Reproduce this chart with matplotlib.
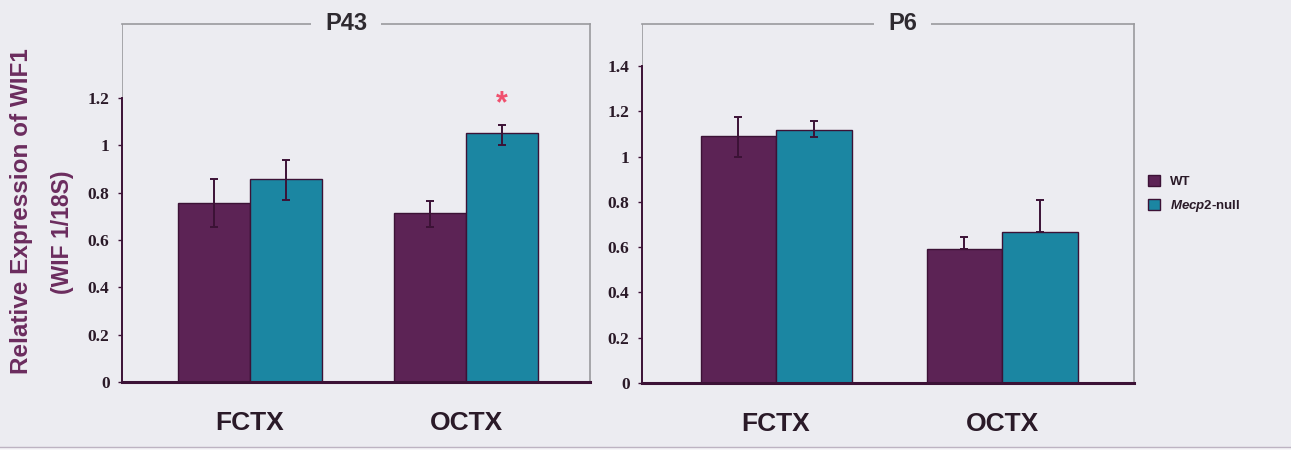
import matplotlib
matplotlib.use("Agg")
import matplotlib.pyplot as plt
from matplotlib.patches import Patch, Rectangle
from matplotlib.lines import Line2D
import numpy as np

plt.rcParams['mathtext.fontset'] = 'custom'
plt.rcParams['mathtext.it'] = 'Liberation Sans:italic:bold'
plt.rcParams['mathtext.rm'] = 'Liberation Sans:bold'

categories = ["FCTX", "OCTX"]
series = ["WT", r"$\mathit{Mecp}$2-null"]

p43_wt = [0.756, 0.714]
p43_ko = [0.858, 1.052]
p43_wt_err_up = [0.10, 0.05]
p43_wt_err_dn = [0.10, 0.06]
p43_ko_err_up = [0.08, 0.035]
p43_ko_err_dn = [0.09, 0.05]

p6_wt = [1.091, 0.592]
p6_ko = [1.117, 0.667]
p6_wt_err_up = [0.085, 0.053]
p6_wt_err_dn = [0.093, 0.0]
p6_ko_err_up = [0.04, 0.14]
p6_ko_err_dn = [0.03, 0.0]

p43_ticks = [0, 0.2, 0.4, 0.6, 0.8, 1, 1.2]
p43_ticklabels = ["0", "0.2", "0.4", "0.6", "0.8", "1", "1.2"]
p6_ticks = [0, 0.2, 0.4, 0.6, 0.8, 1, 1.2, 1.4]
p6_ticklabels = ["0", "0.2", "0.4", "0.6", "0.8", "1", "1.2", "1.4"]

BG = "#ececf1"
WT_C = "#5c2355"
KO_C = "#1b86a2"
EDGE = "#3c1236"
GRAY = "#9a9a9e"
TXT = "#2a1a28"

W, H = 1291, 450
fig = plt.figure(figsize=(W / 100, H / 100), dpi=100, facecolor=BG)

def px(x0, y0, x1, y1):
    return [x0 / W, 1 - y1 / H, (x1 - x0) / W, (y1 - y0) / H]

def panel(rect, title, title_x, wt, ko, wt_up, wt_dn, ko_up, ko_dn,
          ticks, ticklabels, ymax, ytop_axis, xlim, star=None):
    ax = fig.add_axes(rect)
    ax.set_facecolor(BG)
    x = np.arange(len(categories))
    bw = 0.334
    ax.bar(x - bw / 2, wt, bw, color=WT_C, edgecolor=EDGE, linewidth=1.0, zorder=2)
    ax.bar(x + bw / 2, ko, bw, color=KO_C, edgecolor=EDGE, linewidth=1.0, zorder=2)
    ax.errorbar(x - bw / 2, wt, yerr=[wt_dn, wt_up], fmt='none', ecolor=EDGE,
                elinewidth=1.4, capsize=3, capthick=1.4, zorder=3)
    ax.errorbar(x + bw / 2, ko, yerr=[ko_dn, ko_up], fmt='none', ecolor=EDGE,
                elinewidth=1.4, capsize=3, capthick=1.4, zorder=3)
    if star is not None:
        i, y = star
        ax.text(x[i] + bw / 2, y, "*", color="#f0506e", fontsize=22,
                fontweight='bold', ha='center', va='center',
                family='Liberation Sans')
    ax.set_xlim(*xlim)
    ax.set_ylim(0, ymax)
    ax.set_yticks(ticks)
    ax.set_yticklabels(ticklabels, family='Liberation Serif', fontweight='bold',
                       fontsize=12.5, color=TXT)
    ax.tick_params(axis='y', length=3, width=1, color=EDGE, pad=6, direction='out')
    ax.set_xticks(x)
    ax.set_xticklabels(categories, family='Liberation Sans', fontweight='bold',
                       fontsize=19, color=TXT)
    ax.tick_params(axis='x', length=0, pad=21)
    for s in ['top', 'right']:
        ax.spines[s].set_color(GRAY)
        ax.spines[s].set_linewidth(1.2)
    ax.spines['left'].set_color(EDGE)
    ax.spines['left'].set_linewidth(1.4)
    ax.spines['left'].set_bounds(0, ytop_axis)
    ax.axvline(xlim[0], ymin=ytop_axis / ymax, ymax=1, color=GRAY, lw=1.2, zorder=1)
    ax.spines['bottom'].set_color(EDGE)
    ax.spines['bottom'].set_linewidth(2.2)
    ax.text(title_x, 1.0, title, transform=ax.transAxes, ha='center', va='center',
            family='Liberation Sans', fontweight='bold', fontsize=17, color="#2e2a30",
            bbox=dict(facecolor=BG, edgecolor='none', pad=10), clip_on=False, zorder=5)
    return ax

ax1 = panel(px(122, 24, 590, 382), "P43", 0.479, p43_wt, p43_ko,
            p43_wt_err_up, p43_wt_err_dn, p43_ko_err_up, p43_ko_err_dn,
            p43_ticks, p43_ticklabels, 1.512, 1.2, (-0.593, 1.574), star=(1, 1.175))
ax2 = panel(px(642, 24, 1134, 383), "P6", 0.53, p6_wt, p6_ko,
            p6_wt_err_up, p6_wt_err_dn, p6_ko_err_up, p6_ko_err_dn,
            p6_ticks, p6_ticklabels, 1.586, 1.4, (-0.593, 1.584))

fig.text(22 / W, 1 - 211 / H, "Relative Expression of WIF1", rotation=90,
         ha='center', va='center', family='Liberation Sans', fontweight='bold',
         fontsize=17.5, color="#6b2c5e")
fig.text(62 / W, 1 - 232 / H, "(WIF 1/18S)", rotation=90,
         ha='center', va='center', family='Liberation Sans', fontweight='bold',
         fontsize=16.5, color="#6b2c5e")

handles = [Patch(facecolor=WT_C, edgecolor=EDGE, linewidth=1.0),
           Patch(facecolor=KO_C, edgecolor=EDGE, linewidth=1.0)]
fig.legend(handles, series, loc='upper left', bbox_to_anchor=(1136 / W, 1 - 163 / H),
           frameon=False, prop={'family': 'Liberation Sans', 'weight': 'bold', 'size': 9.5},
           handlelength=0.9, handleheight=0.9, handletextpad=0.8, labelspacing=0.75,
           labelcolor=TXT)

fig.add_artist(Rectangle((0, 0), 1, 3 / H, transform=fig.transFigure,
                         facecolor="#f6f5f8", edgecolor='none'))
fig.add_artist(Line2D([0, 1], [3 / H, 3 / H], transform=fig.transFigure,
                      color="#bdb3c2", lw=1.0))

fig.savefig("out.png", dpi=100, facecolor=BG)
